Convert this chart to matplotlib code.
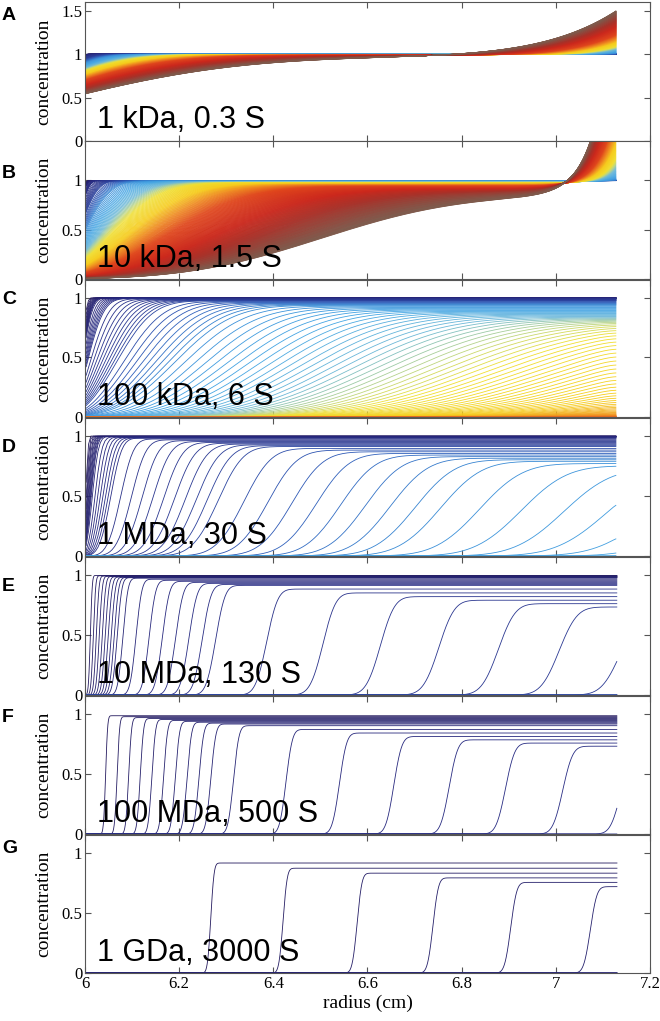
import numpy as np
import matplotlib
matplotlib.use("Agg")
import matplotlib.pyplot as plt
from matplotlib.colors import LinearSegmentedColormap

# panel annotations
panel_letters = ["A", "B", "C", "D", "E", "F", "G"]
panel_labels = ["1 kDa, 0.3 S", "10 kDa, 1.5 S", "100 kDa, 6 S", "1 MDa, 30 S",
                "10 MDa, 130 S", "100 MDa, 500 S", "1 GDa, 3000 S"]
# boundary speed per panel (effective Svedberg, read from the boundary spacing)
s_fit = [0.13, 0.65, 7.06, 26, 130, 500, 3000]
# effective D/(s w^2) in cm^2, judged from the boundary widths
eps_cm2 = [2.5, 0.3, 0.15, 0.025, 0.004, 0.0012, 0.0005]
# closed cell wall (material piles up) or pellet removed at the bottom
wall_pos = [7.2, 7.2, None, None, None, None, None]
y_top = [1.6, 1.4, 1.15, 1.15, 1.15, 1.15, 1.15]
y_ticks = [[0, 0.5, 1, 1.5], [0, 0.5, 1], [0, 0.5, 1], [0, 0.5, 1],
           [0, 0.5, 1], [0, 0.5, 1], [0, 0.5, 1]]
x_ticks = [6, 6.2, 6.4, 6.6, 6.8, 7, 7.2]

r_meniscus = 6.0
r_bottom = 7.13

# scan times (arbitrary units) as segments: first, step, count
scan_segments = [(1.8, 1.0, 10), (12.7, 4.34, 8), (59.4, 17.7, 10),
                 (260.0, 38.0, 9), (622.0, 61.6, 247)]
tau_per_S = 0.0242 / 3000.0   # s*w^2*t per Svedberg per time unit

# colour map along log(time) (early -> late)
cmap_stops = [(0.00, "#241a5e"), (0.30, "#282a80"), (0.50, "#2b3a94"),
              (0.58, "#2e5ab8"), (0.64, "#3a8fd8"), (0.70, "#45a6e4"),
              (0.745, "#6cb8d8"), (0.77, "#b8d488"), (0.79, "#f0e032"),
              (0.835, "#f6cc1c"), (0.865, "#ef8a20"), (0.895, "#e0461c"),
              (0.94, "#cc281c"), (0.968, "#a8322a"), (1.00, "#7f5a4c")]

times = np.concatenate([first + step * np.arange(cnt) for first, step, cnt in scan_segments])
cmap = LinearSegmentedColormap.from_list("scan", cmap_stops)
logt = np.log10(times)
line_colors = cmap((logt - logt[0]) / (logt[-1] - logt[0]))


def lamm(eps, tau_out, wall, tau_stop=None):
    """explicit finite volume solution of the Lamm equation in s*w^2*t units"""
    r_end = wall if wall is not None else r_bottom
    h = min(0.005, 0.5 * eps, 1.8 * eps / r_end)
    h = max(h, 1.2e-4)
    n = int(round((r_end - r_meniscus) / h))
    h = (r_end - r_meniscus) / n
    rc = r_meniscus + h * (np.arange(n) + 0.5)
    rf = r_meniscus + h * np.arange(1, n)
    central = (rf.max() * h / eps) < 2
    dt_max = min(0.45 * h * h / eps, 0.5 * h / r_end)
    c = np.ones(n)
    flux = np.zeros(n + 1)
    tau = 0.0
    out = []
    for target in tau_out:
        if tau_stop is not None and target > tau_stop:
            out.append(None)
            continue
        nstep = max(1, int(np.ceil((target - tau) / dt_max)))
        dt = (target - tau) / nstep
        for _ in range(nstep):
            if central:
                cf = 0.5 * (c[:-1] + c[1:])
            else:
                cf = c[:-1]
            flux[1:-1] = rf * (rf * cf - eps * (c[1:] - c[:-1]) / h)
            flux[-1] = 0.0 if wall is not None else r_end * r_end * c[-1]
            c = c - dt / (rc * h) * (flux[1:] - flux[:-1])
        tau = target
        out.append(c.copy())
    keep = rc <= r_bottom
    return rc[keep], [None if p is None else p[keep] for p in out]


fig = plt.figure(figsize=(6.6, 10.21), dpi=100)
W, H = 660.0, 1021.0
panel_px = [(2, 141), (141, 279), (280, 417), (418, 556), (557, 695), (696, 834), (835, 973)]
letter_px = [15, 174, 300, 447, 586, 717, 848]

serif = "Liberation Serif"
sans = "Liberation Sans"

for i in range(7):
    top, bot = panel_px[i]
    ax = fig.add_axes([85 / W, 1 - bot / H, 565 / W, (bot - top) / H])
    tau_out = s_fit[i] * tau_per_S * times
    stop = None if wall_pos[i] is not None or tau_out[-1] < 0.4 else 0.3
    r, profiles = lamm(eps_cm2[i], tau_out, wall_pos[i], stop)
    sub = max(1, len(r) // 1500)
    for k, prof in enumerate(profiles):
        if prof is None:
            # everything has pelleted: the scan lies on the baseline
            ax.plot([r[0], r[-1]], [0, 0], color=line_colors[k], lw=0.6)
        else:
            ax.plot(r[::sub], prof[::sub], color=line_colors[k], lw=0.6)

    ax.set_xlim(6, 7.2)
    ax.set_ylim(0, y_top[i])
    ax.set_xticks(x_ticks)
    ax.set_yticks(y_ticks[i])
    ax.set_yticklabels(["%g" % v for v in y_ticks[i]], fontfamily=serif, fontsize=12)
    if i == 6:
        ax.set_xticklabels(["%g" % v for v in x_ticks], fontfamily=serif, fontsize=12)
        ax.set_xlabel("radius (cm)", fontfamily=serif, fontsize=14, labelpad=2)
    else:
        ax.set_xticklabels([])
    ax.tick_params(direction="in", top=True, right=True, length=4, width=0.8,
                   color="#555555", pad=2)
    for sp in ax.spines.values():
        sp.set_color("#555555")
        sp.set_linewidth(0.8)
    ax.set_ylabel("concentration", fontfamily=serif, fontsize=14)
    ax.yaxis.set_label_coords(-0.058, 0.5)
    ax.text(0.022, 0.09, panel_labels[i], transform=ax.transAxes, fontfamily=sans,
            fontsize=22, ha="left", va="baseline")
    fig.text(2 / W, 1 - letter_px[i] / H, panel_letters[i], fontfamily=sans,
             fontweight="bold", fontsize=14, ha="left", va="center")

fig.savefig("out.png", dpi=100)
